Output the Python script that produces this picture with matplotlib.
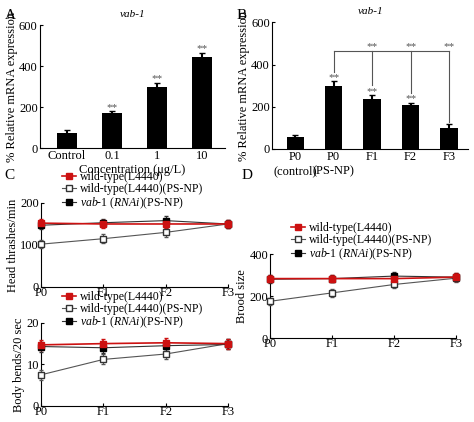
import matplotlib
matplotlib.use("Agg")
import matplotlib.pyplot as plt
from matplotlib.lines import Line2D

plt.rcParams['font.family'] = ['Liberation Serif', 'DejaVu Serif']
plt.rcParams['font.size'] = 9
plt.rcParams['mathtext.fontset'] = 'custom'
plt.rcParams['mathtext.rm'] = 'Liberation Serif'
plt.rcParams['mathtext.it'] = 'Liberation Serif:italic'

conc_labels = ['Control', '0.1', '1', '10']
conc_vals = [75, 170, 300, 445]
conc_err = [12, 10, 20, 22]

gen_labels = ['P0\n(control)', 'P0\n(PS-NP)', 'F1', 'F2', 'F3']
gen_vals = [55, 298, 238, 210, 98]
gen_err = [10, 22, 18, 10, 22]

gens = ['P0', 'F1', 'F2', 'F3']
head_wt = [152, 150, 150, 150]
head_wt_np = [102, 115, 130, 150]
head_rnai = [147, 153, 158, 150]
bend_wt = [14.7, 15.0, 15.2, 15.0]
bend_wt_np = [7.5, 11.2, 12.5, 15.0]
bend_rnai = [14.3, 14.0, 14.5, 14.8]
brood_wt = [283, 283, 283, 290]
brood_wt_np = [175, 215, 255, 285]
brood_rnai = [280, 283, 295, 290]

fig = plt.figure(figsize=(4.74, 4.22), dpi=100)


def style(ax):
    ax.spines['top'].set_visible(False)
    ax.spines['right'].set_visible(False)
    ax.tick_params(direction='in', length=2, pad=1.5)


# A
axA = fig.add_axes([0.084, 0.649, 0.39, 0.291])
x = range(len(conc_vals))
axA.bar(x, conc_vals, yerr=conc_err, width=0.45, color='black', capsize=2, ecolor='black')
for i, v in enumerate(conc_vals):
    if i > 0:
        axA.text(i, v + conc_err[i] + 5, '**', ha='center', color='#555555', fontsize=8)
axA.set_xticks(list(x))
axA.set_xticklabels(conc_labels)
axA.set_ylim(0, 600)
axA.set_yticks([0, 200, 400, 600])
axA.set_xlim(-0.6, 3.5)
axA.set_xlabel('Concentration (μg/L)', labelpad=1)
axA.set_ylabel('% Relative mRNA expression', labelpad=1)
axA.set_title('vab-1', style='italic', fontsize=8)
style(axA)
fig.text(0.01, 0.955, 'A', fontsize=11)

# B
axB = fig.add_axes([0.574, 0.647, 0.414, 0.30])
x = range(len(gen_vals))
axB.bar(x, gen_vals, yerr=gen_err, width=0.45, color='black', capsize=2, ecolor='black')
for i, v in enumerate(gen_vals):
    if 0 < i < 4:
        axB.text(i, v + gen_err[i] + 5, '**', ha='center', color='#555555', fontsize=8)
axB.plot([1, 4], [465, 465], color='#555555', lw=0.8)
for i in range(1, 5):
    axB.plot([i, i], [465, gen_vals[i] + gen_err[i] + (45 if 0 < i < 4 else 8)], color='#555555', lw=0.8)
    if i > 1:
        axB.text(i, 475, '**', ha='center', color='#555555', fontsize=8)
axB.set_xticks(list(x))
axB.set_xticklabels(gen_labels)
axB.set_ylim(0, 600)
axB.set_yticks([0, 200, 400, 600])
axB.set_xlim(-0.6, 4.5)
axB.set_ylabel('% Relative mRNA expression', labelpad=1)
axB.set_title('vab-1', style='italic', fontsize=8)
style(axB)
fig.text(0.5, 0.955, 'B', fontsize=11)


def lines(ax, wt, wtnp, rnai, err):
    xx = range(len(gens))
    kw = dict(ms=5, capsize=1.5, clip_on=False, zorder=3)
    ax.errorbar(xx, wtnp, yerr=err, color='#555555', marker='s', mfc='white', mec='#333333', lw=0.8, **kw)
    ax.errorbar(xx, rnai, yerr=err, color='#333333', marker='s', mfc='black', mec='black', lw=0.8, **kw)
    ax.errorbar(xx, wt, yerr=err, color='#cc1111', marker='s', mfc='#cc1111', mec='#cc1111', lw=1.2, **kw)
    handles = [Line2D([], [], color='#cc1111', marker='s', mfc='#cc1111', mec='#cc1111', ms=4, lw=1.2),
               Line2D([], [], color='#555555', marker='s', mfc='white', mec='#333333', ms=4, lw=0.8),
               Line2D([], [], color='#333333', marker='s', mfc='black', mec='black', ms=4, lw=0.8)]
    ax.legend(handles, ['wild-type(L4440)', 'wild-type(L4440)(PS-NP)', '$\\it{vab}$-$\\it{1}$ ($\\it{RNAi}$)(PS-NP)'],
              loc='lower left', bbox_to_anchor=(0.08, 0.84), frameon=False, fontsize=8.5,
              handlelength=1.2, handletextpad=0.3, labelspacing=0.0, borderpad=0)
    ax.set_xticks(list(xx))
    ax.set_xticklabels(gens)
    ax.set_xlim(0, 3)
    style(ax)
    ax.tick_params(axis='x', pad=0)


axC1 = fig.add_axes([0.087, 0.32, 0.394, 0.199])
lines(axC1, head_wt, head_wt_np, head_rnai, 10)
axC1.set_ylim(0, 200)
axC1.set_yticks([0, 100, 200])
axC1.set_ylabel('Head thrashes/min', labelpad=1)
fig.text(0.01, 0.575, 'C', fontsize=11)

axC2 = fig.add_axes([0.087, 0.038, 0.394, 0.197])
lines(axC2, bend_wt, bend_wt_np, bend_rnai, 1.2)
axC2.set_ylim(0, 20)
axC2.set_yticks([0, 10, 20])
axC2.set_ylabel('Body bends/20 sec', labelpad=1)

axD = fig.add_axes([0.57, 0.199, 0.392, 0.199])
lines(axD, brood_wt, brood_wt_np, brood_rnai, 18)
axD.set_ylim(0, 400)
axD.set_yticks([0, 200, 400])
axD.set_ylabel('Brood size', labelpad=1)
fig.text(0.51, 0.575, 'D', fontsize=11)

fig.savefig('out.png', dpi=100)
